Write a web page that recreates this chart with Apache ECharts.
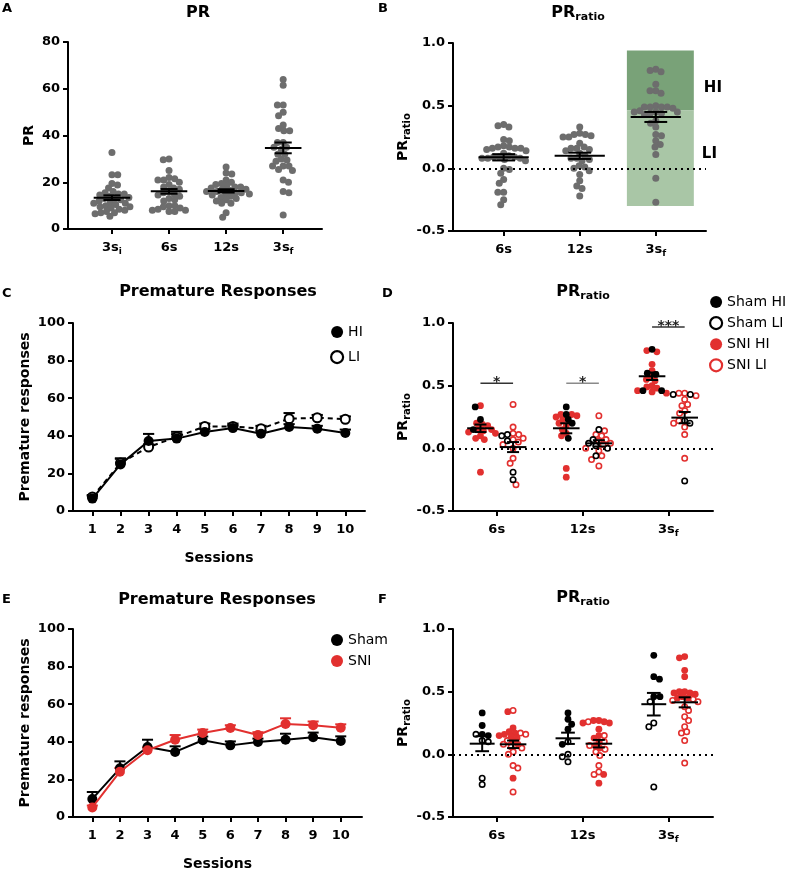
<!DOCTYPE html>
<html><head><meta charset="utf-8">
<script src="https://cdn.jsdelivr.net/npm/echarts@6/dist/echarts.min.js"></script>
<style>html,body{margin:0;padding:0;background:#fff}#c{width:787px;height:870px}</style>
</head><body><div id="c"></div>
<script>
// ---------- DATA ----------
// Panel A
const aCats = ['3s_i', '6s', '12s', '3s_f'];
const aVals = [
  [32.7,23.2,23.2,19.5,18.8,17.5,16,15.5,15,15,14.5,14,13.5,13,13,12.5,12,11.5,11,11,10.5,10,9.5,9.5,9,8.5,8,7.5,7,7,6.5,5.5],
  [29.9,29.6,25,22,21.5,21,21,20,19,18,17.5,17,16,15.5,15,14.5,14,13,12.5,12,10,10,9.5,9,8.5,8,8,7.5,7.5],
  [26.5,24,23.5,21,20,19.5,19,18.5,18,18,17.5,17,17,16.5,16,16,15.5,15.5,15,15,14.5,14,13.5,13,12.5,12,11,11,7,5],
  [64,61.5,53,53,50,48.5,44.5,43,42,42,37,37,35,35,34,32,32,30,29.5,29,27,27,27,25.5,25,21,20,16,15.5,6]
];
const aMean = [13.4, 16.1, 16.3, 34.7];
const aSem = [1.0, 1.0, 0.7, 2.3];
// Panel B
const bCats = ['6s', '12s', '3s_f'];
const bVals = [
  [0.35,0.34,0.33,0.23,0.22,0.18,0.17,0.17,0.16,0.16,0.16,0.15,0.14,0.12,0.1,0.09,0.09,0.09,0.08,0.08,0.08,0.07,0.06,0.0,-0.01,-0.04,-0.09,-0.12,-0.19,-0.19,-0.25,-0.29],
  [0.33,0.28,0.27,0.27,0.26,0.25,0.25,0.2,0.17,0.16,0.16,0.15,0.14,0.12,0.1,0.08,0.08,0.07,0.06,0.02,0.01,0.0,-0.02,-0.05,-0.1,-0.14,-0.16,-0.22],
  [0.79,0.78,0.77,0.67,0.62,0.62,0.6,0.5,0.49,0.49,0.49,0.49,0.48,0.46,0.45,0.45,0.45,0.44,0.44,0.43,0.38,0.36,0.33,0.27,0.26,0.22,0.19,0.17,0.11,-0.08,-0.27]
];
const bMean = [0.088, 0.10, 0.41];
const bSem = [0.025, 0.025, 0.04];
const bRegionX = [1.62, 2.5];
const bHiRange = [0.462, 0.94];
const bLiRange = [-0.30, 0.462];
// Panel C
const sessions = [1,2,3,4,5,6,7,8,9,10];
const cHI = [6.6,24.8,37.2,38.5,42,44.1,41.1,44.7,43.8,41.5];
const cHIerr = [1.5,3,3.8,3.6,1.5,1.5,1.5,1.5,1.5,1.8];
const cLI = [7.5,25.5,34,39.4,45,45,43.8,49.1,49.6,48.8];
const cLIerr = [1,2.5,1.5,1.5,1.5,1.5,1.5,3,1.5,1.5];
// Panel D
const dCats = ['6s', '12s', '3s_f'];
const dShamHI = [[0.33,0.23,0.15],[0.33,0.27,0.23,0.2,0.08],[0.79,0.6,0.59,0.46,0.46]];
const dSniHI = [[0.34,0.2,0.19,0.18,0.16,0.15,0.14,0.13,0.12,0.1,0.08,0.07,-0.19],
                [0.27,0.27,0.26,0.25,0.23,0.2,0.18,0.15,0.12,0.1,-0.16,-0.23],
                [0.78,0.77,0.67,0.62,0.57,0.55,0.54,0.5,0.49,0.48,0.46,0.45,0.44]];
const dShamLI = [[0.11,0.1,0.06,-0.19,-0.25],[0.15,0.07,0.04,0.02,0.0,-0.06],[0.43,0.43,0.22,0.2,-0.26]];
const dSniLI = [[0.35,0.17,0.12,0.11,0.08,0.07,0.05,0.03,0.0,-0.08,-0.12,-0.29],
                [0.26,0.14,0.11,0.1,0.07,0.06,0.04,0.03,0.0,-0.02,-0.06,-0.09,-0.14],
                [0.44,0.44,0.42,0.39,0.35,0.34,0.3,0.28,0.22,0.2,0.17,0.11,-0.08]];
const dMeanHI = [0.16, 0.16, 0.575], dSemHI = [0.03, 0.04, 0.03];
const dMeanLI = [0.01, 0.04, 0.245], dSemLI = [0.04, 0.025, 0.045];
const dSigLabels = ['*', '*', '***'];
const dSigY = [0.52, 0.52, 0.968];
// Panel E
const eSham = [9.6,25.9,37.2,34.6,40.8,38.1,39.9,41.1,42.4,40.4];
const eShamErr = [3.7,3.7,3.9,3,2,2.1,1.8,3.2,2.5,2.5];
const eSNI = [5.1,24.1,35.5,41.1,44.7,47.3,43.6,49.5,48.8,47.5];
const eSniErr = [1,2,1.5,2.5,1.8,1.5,1.5,3,2,1.8];
// Panel F
const fShamHI = [[0.33,0.23,0.16,0.15],[0.33,0.28,0.24,0.2,0.08],[0.79,0.62,0.6,0.46,0.46]];
const fShamLI = [[0.16,0.11,0.1,-0.19,-0.24],[0.1,0.0,-0.02,-0.06],[0.42,0.25,0.22,-0.26]];
const fSniHI = [[0.34,0.21,0.18,0.17,0.16,0.15,0.14,0.13,0.1,0.08,-0.19],
                [0.27,0.27,0.26,0.25,0.25,0.2,0.15,0.13,0.1,0.07,0.05,-0.16,-0.23],
                [0.78,0.77,0.67,0.62,0.5,0.5,0.49,0.49,0.48,0.46,0.45,0.45]];
const fSniLI = [[0.35,0.17,0.16,0.11,0.08,0.06,0.05,0.02,0.0,-0.09,-0.11,-0.3],
                [0.26,0.15,0.1,0.07,0.04,0.02,-0.01,-0.09,-0.14,-0.16],
                [0.44,0.43,0.42,0.38,0.35,0.3,0.27,0.22,0.18,0.17,0.11,-0.07]];
const fMeanSham = [0.085, 0.128, 0.40], fSemSham = [0.06, 0.045, 0.09];
const fMeanSni = [0.08, 0.085, 0.415], fSemSni = [0.03, 0.03, 0.04];

// ---------- LAYOUT / STYLE ----------
const FONT = 'DejaVu Sans';
const RED = '#e2302f', GREY = '#6d6d6d';
const grids = [
  {left:68, top:42, width:254, height:187},
  {left:453, top:43, width:253, height:188},
  {left:73, top:323, width:292, height:188},
  {left:453, top:323, width:260, height:188},
  {left:73, top:629, width:289, height:188},
  {left:453, top:629, width:260, height:188}
];
const XR = [[-0.77,3.68],[-0.666,2.66],[0.31,10.7],[-0.51,2.52],[0.3,10.77],[-0.51,2.52]];
const YR = [[0,80],[-0.5,1],[0,100],[-0.5,1],[0,100],[-0.5,1]];
const xpx = gi => grids[gi].width/(XR[gi][1]-XR[gi][0]);
const ypx = gi => grids[gi].height/(YR[gi][1]-YR[gi][0]);

const SUB = {fontFamily:FONT, fontWeight:'bold', fontSize:9, lineHeight:8, verticalAlign:'bottom', color:'#000'};
const axisLine = {show:true, onZero:false, lineStyle:{color:'#000', width:2}};
function xAxisDef(gi, values, labels, name) {
  const ax = {type:'value', gridIndex:gi, min:XR[gi][0], max:XR[gi][1],
    axisLine, splitLine:{show:false},
    axisTick:{show:true, length:5, lineStyle:{color:'#000', width:2}, customValues:values},
    axisLabel:{color:'#000', fontFamily:FONT, fontWeight:'bold', fontSize:13, lineHeight:16, margin:11,
      customValues:values,
      formatter: v => { let k=0, best=1e9; values.forEach((t,i)=>{ if (Math.abs(t-v)<best){best=Math.abs(t-v);k=i;} });
        return labels[k].replace(/_(\w+)/, '{sub|$1}'); },
      rich:{sub:SUB}}
  };
  if (name) { ax.name = name; ax.nameLocation = 'middle'; ax.nameGap = 40;
    ax.nameTextStyle = {color:'#000', fontFamily:FONT, fontWeight:'bold', fontSize:14}; }
  return ax;
}
function yAxisDef(gi, interval, name, gap, fmt) {
  return {type:'value', gridIndex:gi, min:YR[gi][0], max:YR[gi][1], interval,
    name, nameLocation:'middle', nameGap:gap, nameRotate:90,
    nameTextStyle:{color:'#000', fontFamily:FONT, fontWeight:'bold', fontSize:14, lineHeight:18,
      rich:{sub:{fontFamily:FONT, fontWeight:'bold', fontSize:10, lineHeight:9, verticalAlign:'bottom', color:'#000'}}},
    axisLine, splitLine:{show:false},
    axisTick:{show:true, length:5, lineStyle:{color:'#000', width:2}},
    axisLabel:{color:'#000', fontFamily:FONT, fontWeight:'bold', fontSize:13, margin:8, formatter:fmt}
  };
}

// beeswarm layout (pixel x offsets) computed from the values
function swarm(vals, yScale, d) {
  const idx = vals.map((v,i)=>i).sort((a,b)=>vals[b]-vals[a]);
  const placed = [], out = new Array(vals.length);
  let toggle = 1;
  idx.forEach(i => {
    const y = vals[i]*yScale;
    const near = placed.filter(p => Math.abs(p.y-y) < d);
    const cands = [0];
    near.forEach(p => { const dx = Math.sqrt(d*d-(p.y-y)*(p.y-y)); cands.push(p.x+dx, p.x-dx); });
    const ok = cands.filter(x => near.every(p => (x-p.x)*(x-p.x)+(y-p.y)*(y-p.y) >= d*d-1e-6));
    ok.sort((a,b) => (Math.abs(a)-Math.abs(b)) || toggle*(b-a));
    const x = ok[0]; toggle = -toggle;
    placed.push({x, y}); out[i] = x;
  });
  return out;
}
function dotGroups(gi, ci, offset, lists, d) {
  const all = [].concat(...lists);
  const off = swarm(all, ypx(gi), d);
  const res = []; let k = 0;
  lists.forEach(l => { const arr=[]; l.forEach(v => { arr.push([ci+offset+off[k]/xpx(gi), v]); k++; }); res.push(arr); });
  return res;
}

function meanRender(params, api) {
  const x=api.value(0), m=api.value(1), s=api.value(2), hw=api.value(3), cw=api.value(4);
  const L=api.coord([x-hw,m]), R=api.coord([x+hw,m]), T=api.coord([x,m+s]), B=api.coord([x,m-s]);
  const tl=api.coord([x-cw,m+s]), tr=api.coord([x+cw,m+s]), bl=api.coord([x-cw,m-s]), br=api.coord([x+cw,m-s]);
  const st = {stroke:'#000', lineWidth:2};
  const ln = (a,b) => ({type:'line', shape:{x1:a[0],y1:a[1],x2:b[0],y2:b[1]}, style:st});
  return {type:'group', children:[ln(L,R), ln(T,B), ln(tl,tr), ln(bl,br)]};
}
function errRender(color) {
  return function(params, api) {
    const x=api.value(0), y=api.value(1), e=api.value(2);
    const p0=api.coord([x,y]), p1=api.coord([x,y+e]), cl=api.coord([x-0.2,y+e]), cr=api.coord([x+0.2,y+e]);
    const st = {stroke:color, lineWidth:2};
    return {type:'group', children:[
      {type:'line', shape:{x1:p0[0],y1:p0[1],x2:p1[0],y2:p1[1]}, style:st},
      {type:'line', shape:{x1:cl[0],y1:cl[1],x2:cr[0],y2:cr[1]}, style:st}]};
  };
}
const zeroLine = {silent:true, symbol:['none','none'], label:{show:false}, animation:false,
  lineStyle:{color:'#000', type:[2,4], width:2}, data:[{yAxis:0}]};

const series = [];
// ---- A ----
const aDots = [];
aVals.forEach((vals,ci) => { dotGroups(0, ci, 0, [vals], 5.8)[0].forEach(p => aDots.push(p)); });
series.push({type:'scatter', xAxisIndex:0, yAxisIndex:0, data:aDots, symbolSize:7, itemStyle:{color:GREY, opacity:1}, z:2});
series.push({type:'custom', xAxisIndex:0, yAxisIndex:0, data:aMean.map((m,i)=>[i,m,aSem[i],0.32,0.15]), renderItem:meanRender, z:5});
// ---- B ----
const bDots = [];
bVals.forEach((vals,ci) => { dotGroups(1, ci, 0, [vals], 5.8)[0].forEach(p => bDots.push(p)); });
const areaLabel = {show:true, position:'right', distance:8, color:'#000', fontFamily:FONT, fontWeight:'bold', fontSize:15};
series.push({type:'scatter', xAxisIndex:1, yAxisIndex:1, data:bDots, symbolSize:7, itemStyle:{color:GREY, opacity:1}, z:2,
  markLine:zeroLine,
  markArea:{silent:true, data:[
    [{xAxis:bRegionX[0], yAxis:bHiRange[0], itemStyle:{color:'#79a278'}, label:Object.assign({}, areaLabel, {formatter:'HI', offset:[2,8]})},
     {xAxis:bRegionX[1], yAxis:bHiRange[1]}],
    [{xAxis:bRegionX[0], yAxis:bLiRange[0], itemStyle:{color:'#a9c6a6'}, label:Object.assign({}, areaLabel, {formatter:'LI', offset:[0,-4]})},
     {xAxis:bRegionX[1], yAxis:bLiRange[1]}]
  ]}});
series.push({type:'custom', xAxisIndex:1, yAxisIndex:1, data:bMean.map((m,i)=>[i,m,bSem[i],0.33,0.15]), renderItem:meanRender, z:5});
// ---- C ----
series.push({type:'custom', xAxisIndex:2, yAxisIndex:2, data:sessions.map((s,i)=>[s,cLI[i],cLIerr[i]]), renderItem:errRender('#000'), z:2});
series.push({type:'custom', xAxisIndex:2, yAxisIndex:2, data:sessions.map((s,i)=>[s,cHI[i],cHIerr[i]]), renderItem:errRender('#000'), z:2});
series.push({name:'LI', type:'line', xAxisIndex:2, yAxisIndex:2, data:sessions.map((s,i)=>[s,cLI[i]]),
  symbol:'circle', symbolSize:9, lineStyle:{color:'#000', width:2, type:[5,4]},
  itemStyle:{color:'#fff', borderColor:'#000', borderWidth:2}, z:3});
series.push({name:'HI', type:'line', xAxisIndex:2, yAxisIndex:2, data:sessions.map((s,i)=>[s,cHI[i]]),
  symbol:'circle', symbolSize:10, lineStyle:{color:'#000', width:2}, itemStyle:{color:'#000'}, z:4});
// ---- D / F dot helpers ----
function dotSeries(name, gi, data, filled, color) {
  return {name, type:'scatter', xAxisIndex:gi, yAxisIndex:gi, data, symbol:'circle',
    symbolSize: filled ? 6.8 : 5.4,
    itemStyle: filled ? {color, opacity:1} : {color:'rgba(255,255,255,0)', borderColor:color, borderWidth:1.6, opacity:1},
    z:3};
}
// ---- D ----
const D = {shamHI:[], sniHI:[], shamLI:[], sniLI:[]};
dCats.forEach((c,ci) => {
  const hi = dotGroups(3, ci, -0.19, [dShamHI[ci], dSniHI[ci]], 5.4);
  const li = dotGroups(3, ci, 0.19, [dShamLI[ci], dSniLI[ci]], 5.8);
  D.shamHI.push(...hi[0]); D.sniHI.push(...hi[1]); D.shamLI.push(...li[0]); D.sniLI.push(...li[1]);
});
const dSniHIser = dotSeries('SNI HI', 3, D.sniHI, true, RED);
dSniHIser.markLine = zeroLine;
series.push(dSniHIser, dotSeries('SNI LI', 3, D.sniLI, false, RED),
  dotSeries('Sham HI', 3, D.shamHI, true, '#000'), dotSeries('Sham LI', 3, D.shamLI, false, '#000'));
series.push({type:'custom', xAxisIndex:3, yAxisIndex:3,
  data:dMeanHI.map((m,i)=>[i-0.19,m,dSemHI[i],0.155,0.07]).concat(dMeanLI.map((m,i)=>[i+0.19,m,dSemLI[i],0.155,0.07])),
  renderItem:meanRender, z:6});
series.push({type:'custom', xAxisIndex:3, yAxisIndex:3, data:dSigY.map((y,i)=>[i-0.19,i+0.19,y]), z:6,
  renderItem:function(params, api){
    const i = params.dataIndex;
    const p1 = api.coord([api.value(0), api.value(2)]), p2 = api.coord([api.value(1), api.value(2)]);
    const col = i === 1 ? '#8a8a8a' : '#333';
    return {type:'group', children:[
      {type:'line', shape:{x1:p1[0],y1:p1[1],x2:p2[0],y2:p2[1]}, style:{stroke:col, lineWidth:1.5}},
      {type:'text', style:{text:dSigLabels[i], x:(p1[0]+p2[0])/2, y:p1[1]-1, align:'center', verticalAlign:'middle',
        fontFamily:FONT, fontWeight:'bold', fontSize:14, fill:'#222'}}]};
  }});
// ---- E ----
series.push({type:'custom', xAxisIndex:4, yAxisIndex:4, data:sessions.map((s,i)=>[s,eSham[i],eShamErr[i]]), renderItem:errRender('#000'), z:2});
series.push({type:'custom', xAxisIndex:4, yAxisIndex:4, data:sessions.map((s,i)=>[s,eSNI[i],eSniErr[i]]), renderItem:errRender(RED), z:2});
series.push({name:'Sham', type:'line', xAxisIndex:4, yAxisIndex:4, data:sessions.map((s,i)=>[s,eSham[i]]),
  symbol:'circle', symbolSize:10, lineStyle:{color:'#000', width:2}, itemStyle:{color:'#000'}, z:3});
series.push({name:'SNI', type:'line', xAxisIndex:4, yAxisIndex:4, data:sessions.map((s,i)=>[s,eSNI[i]]),
  symbol:'circle', symbolSize:10, lineStyle:{color:RED, width:2}, itemStyle:{color:RED}, z:4});
// ---- F ----
const F = {shamHI:[], sniHI:[], shamLI:[], sniLI:[]};
dCats.forEach((c,ci) => {
  const sh = dotGroups(5, ci, -0.17, [fShamHI[ci], fShamLI[ci]], 6.2);
  const sn = dotGroups(5, ci, 0.19, [fSniHI[ci], fSniLI[ci]], 5.4);
  F.shamHI.push(...sh[0]); F.shamLI.push(...sh[1]); F.sniHI.push(...sn[0]); F.sniLI.push(...sn[1]);
});
const fFirst = dotSeries('F SNI HI', 5, F.sniHI, true, RED);
fFirst.markLine = zeroLine;
series.push(fFirst, dotSeries('F SNI LI', 5, F.sniLI, false, RED),
  dotSeries('F Sham HI', 5, F.shamHI, true, '#000'), dotSeries('F Sham LI', 5, F.shamLI, false, '#000'));
series.push({type:'custom', xAxisIndex:5, yAxisIndex:5,
  data:fMeanSham.map((m,i)=>[i-0.17,m,fSemSham[i],0.145,0.08]).concat(fMeanSni.map((m,i)=>[i+0.19,m,fSemSni[i],0.155,0.07])),
  renderItem:meanRender, z:6});

// ---------- TEXT ----------
const titleRich = {
  a:{fontFamily:FONT, fontWeight:'bold', fontSize:16, lineHeight:20, fill:'#000', color:'#000'},
  b:{fontFamily:FONT, fontWeight:'bold', fontSize:11, lineHeight:12, verticalAlign:'bottom', fill:'#000', color:'#000'}
};
function title(x, y, text) {
  return {type:'text', x, y, style:{text, rich:titleRich, align:'center', verticalAlign:'middle',
    fontFamily:FONT, fontWeight:'bold', fontSize:16, fill:'#000'}};
}
function letter(x, y, t) {
  return {type:'text', x, y, style:{text:t, fontFamily:FONT, fontWeight:'bold', fontSize:13, fill:'#000'}};
}
const legendBase = {orient:'vertical', icon:'circle', itemWidth:12, itemHeight:12, selectedMode:false,
  textStyle:{color:'#000', fontFamily:FONT, fontSize:14}};

const fmt1 = v => v.toFixed(1);
const option = {
  animation:false,
  backgroundColor:'#fff',
  textStyle:{fontFamily:FONT},
  grid: grids.map(g => Object.assign({containLabel:false, outerBoundsMode:'none'}, g)),
  xAxis: [
    xAxisDef(0, [0,1,2,3], aCats),
    xAxisDef(1, [0,1,2], bCats),
    xAxisDef(2, sessions, sessions.map(String), 'Sessions'),
    xAxisDef(3, [0,1,2], dCats),
    xAxisDef(4, sessions, sessions.map(String), 'Sessions'),
    xAxisDef(5, [0,1,2], dCats)
  ],
  yAxis: [
    yAxisDef(0, 20, 'PR', 30, v => String(v)),
    yAxisDef(1, 0.5, 'PR{sub|ratio}', 38, fmt1),
    yAxisDef(2, 20, 'Premature responses', 38, v => String(v)),
    yAxisDef(3, 0.5, 'PR{sub|ratio}', 38, fmt1),
    yAxisDef(4, 20, 'Premature responses', 38, v => String(v)),
    yAxisDef(5, 0.5, 'PR{sub|ratio}', 38, fmt1)
  ],
  legend: [
    Object.assign({}, legendBase, {data:['HI', {name:'LI', itemStyle:{borderWidth:2.2}}], left:325, top:320, itemGap:11}),
    Object.assign({}, legendBase, {data:['Sham HI', {name:'Sham LI', itemStyle:{borderWidth:2.2}}, 'SNI HI', {name:'SNI LI', itemStyle:{borderWidth:2.2}}], left:704, top:290, itemGap:7}),
    Object.assign({}, legendBase, {data:['Sham', 'SNI'], left:326, top:628, itemGap:7})
  ],
  graphic: [
    letter(2, 2, 'A'), letter(378, 2, 'B'), letter(2, 287, 'C'), letter(382, 287, 'D'), letter(2, 593, 'E'), letter(378, 593, 'F'),
    title(198, 13, '{a|PR}'),
    title(578, 13, '{a|PR}{b|ratio}'),
    title(218, 292, '{a|Premature Responses}'),
    title(583, 292, '{a|PR}{b|ratio}'),
    title(217, 600, '{a|Premature Responses}'),
    title(583, 598, '{a|PR}{b|ratio}')
  ],
  series
};
const chart = echarts.init(document.getElementById('c'), null, {renderer:'canvas'});
chart.setOption(option);
</script>
</body></html>
